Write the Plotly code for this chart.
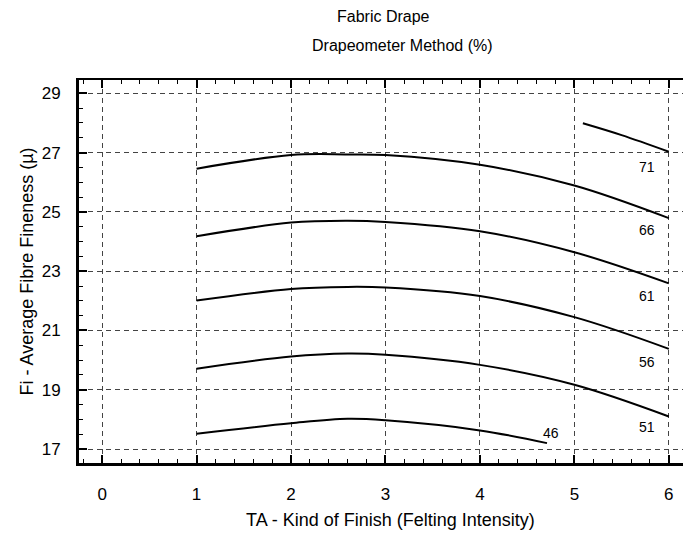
import plotly.graph_objects as go

# ---- data ----
x_main = [1, 2, 2.6, 3, 4, 5, 6]
drape_66 = [26.46, 26.92, 26.94, 26.92, 26.59, 25.89, 24.79]
drape_61 = [24.18, 24.64, 24.70, 24.66, 24.35, 23.64, 22.59]
drape_56 = [22.01, 22.40, 22.47, 22.45, 22.16, 21.45, 20.38]
drape_51 = [19.71, 20.12, 20.22, 20.18, 19.84, 19.17, 18.10]
x_46 = [1, 2, 2.6, 3, 4, 4.71]
drape_46 = [17.52, 17.87, 18.02, 17.97, 17.63, 17.20]
x_71 = [5.09, 5.5, 6]
drape_71 = [27.99, 27.59, 27.03]

label_text = ["71", "66", "61", "56", "51", "46"]
label_x = [5.765, 5.765, 5.765, 5.765, 5.765, 4.75]
label_y = [26.52, 24.39, 22.16, 19.94, 17.75, 17.53]

x_ticks = [0, 1, 2, 3, 4, 5, 6]
y_ticks = [17, 19, 21, 23, 25, 27, 29]

X_RANGE = [-0.245, 6.15]
FONT = "Liberation Sans, Arial, sans-serif"

# plot-area geometry in pixels (used to place paper-referenced texts)
PLOT_L, PLOT_R, PLOT_T, PLOT_B = 79, 683, 80, 463


def px_x(px):
    return (px - PLOT_L) / (PLOT_R - PLOT_L)


def px_y(py):
    return (PLOT_B - py) / (PLOT_B - PLOT_T)


fig = go.Figure()
series = [
    (x_71, drape_71), (x_main, drape_66), (x_main, drape_61),
    (x_main, drape_56), (x_main, drape_51), (x_46, drape_46),
]
for xs, ys in series:
    fig.add_trace(go.Scatter(
        x=xs, y=ys, mode="lines",
        line=dict(color="black", width=2, shape="spline", smoothing=1.0),
        showlegend=False, hoverinfo="skip",
    ))

# empty trace so the thin top axis (x2) is drawn
fig.add_trace(go.Scatter(x=[None], y=[None], xaxis="x2", mode="lines",
                         showlegend=False, hoverinfo="skip"))

for t, lx, ly in zip(label_text, label_x, label_y):
    fig.add_annotation(x=lx, y=ly, text=t, showarrow=False,
                       font=dict(family=FONT, size=14, color="black"))

fig.add_annotation(xref="paper", yref="paper", x=px_x(383), y=px_y(17),
                   xanchor="center", yanchor="middle",
                   text="Fabric Drape", showarrow=False,
                   font=dict(family=FONT, size=16, color="black"))
fig.add_annotation(xref="paper", yref="paper", x=px_x(402), y=px_y(45),
                   xanchor="center", yanchor="middle",
                   text="Drapeometer Method (%)", showarrow=False,
                   font=dict(family=FONT, size=16, color="black"))
fig.add_annotation(xref="paper", yref="paper", x=px_x(390), y=px_y(520),
                   xanchor="center", yanchor="middle",
                   text="TA - Kind of Finish (Felting Intensity)", showarrow=False,
                   font=dict(family=FONT, size=18, color="black"))

grid = dict(showgrid=True, gridcolor="#444444", gridwidth=1, griddash="5px,4px")

fig.update_layout(
    xaxis=dict(
        range=X_RANGE, tickvals=x_ticks, ticktext=[str(v) for v in x_ticks],
        ticks="inside", ticklen=8, tickwidth=1.5, tickcolor="black",
        minor=dict(dtick=0.2, ticks="inside", ticklen=4, tickwidth=1.2, tickcolor="black", showgrid=False),
        showline=True, linecolor="black", linewidth=2.5, mirror=False,
        zeroline=False, ticklabelstandoff=14,
        tickfont=dict(family=FONT, size=17, color="black"),
        **grid,
    ),
    xaxis2=dict(
        overlaying="x", side="top", range=X_RANGE, tickvals=x_ticks,
        showticklabels=False, showgrid=False, zeroline=False,
        ticks="inside", ticklen=8, tickwidth=1.5, tickcolor="black",
        minor=dict(dtick=0.2, ticks="inside", ticklen=4, tickwidth=1.2, tickcolor="black", showgrid=False),
        showline=True, linecolor="black", linewidth=1.5,
    ),
    yaxis=dict(
        range=[16.53, 29.45], tickvals=y_ticks, ticktext=[str(v) for v in y_ticks],
        ticks="inside", ticklen=8, tickwidth=1.5, tickcolor="black",
        minor=dict(dtick=0.5, ticks="inside", ticklen=4, tickwidth=1.2, tickcolor="black", showgrid=False),
        showline=True, linecolor="black", linewidth=3, mirror=False,
        zeroline=False, ticklabelstandoff=12,
        tickfont=dict(family=FONT, size=17, color="black"),
        title=dict(text="Fi - Average Fibre Fineness (µ)", standoff=4,
                   font=dict(family=FONT, size=18, color="black")),
        **grid,
    ),
    width=683, height=534,
    margin=dict(l=PLOT_L, r=683 - PLOT_R, t=PLOT_T, b=534 - PLOT_B, autoexpand=False),
    plot_bgcolor="white", paper_bgcolor="white",
    font=dict(family=FONT, color="black"),
)

fig.write_html("out.html", config={"displayModeBar": False},
               post_script="document.body.style.margin='0px';document.body.style.padding='0px';")
